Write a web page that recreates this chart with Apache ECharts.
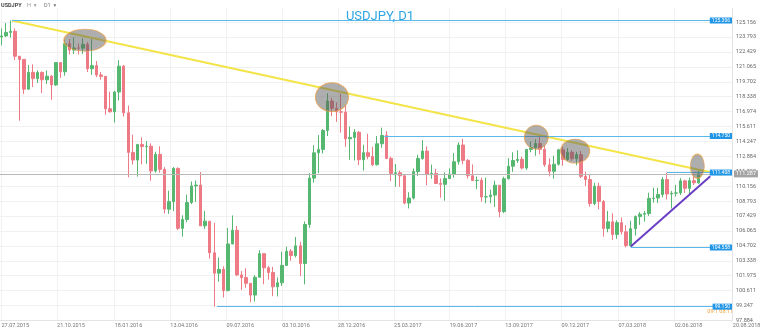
<!DOCTYPE html>
<html><head><meta charset="utf-8">
<script src="https://cdn.jsdelivr.net/npm/echarts@6/dist/echarts.min.js"></script>
<style>html,body{margin:0;padding:0;background:#fff}#c{width:760px;height:331px}</style>
</head><body><div id="c"></div>
<script>
// ---- DATA (weekly candles): [weekStart, open, close, low, high]
const ohlc2015 = [
['2015-07-27',123.80,123.90,123.05,124.58],['2015-08-03',123.90,124.22,123.80,125.07],
['2015-08-10',124.22,124.32,123.75,125.31],['2015-08-17',124.32,122.04,121.70,124.58],
['2015-08-24',122.04,121.75,116.15,121.80],['2015-08-31',121.75,119.03,118.60,121.75],
['2015-09-07',119.03,120.57,119.00,121.24],['2015-09-14',120.57,120.00,119.22,121.30],
['2015-09-21',120.00,120.56,119.60,120.75],['2015-09-28',120.56,119.89,118.68,120.65],
['2015-10-05',119.89,120.22,119.50,120.74],['2015-10-12',120.22,119.42,118.06,120.31],
['2015-10-19',119.42,121.46,119.33,121.49],['2015-10-26',121.46,120.62,120.06,121.48],
['2015-11-02',120.62,123.19,120.26,123.59],['2015-11-09',123.19,122.60,122.20,123.60],
['2015-11-16',122.60,122.80,122.25,123.76],['2015-11-23',122.80,122.78,122.20,123.20],
['2015-11-30',122.78,123.13,122.25,123.68],['2015-12-07',123.13,120.90,120.60,123.34],
['2015-12-14',120.90,121.18,120.34,123.60],['2015-12-21',121.18,120.33,120.13,121.60],
['2015-12-28',120.33,120.20,119.90,120.60]
];
const ohlc2016 = [
['2016-01-04',120.20,117.24,116.70,120.20],['2016-01-11',117.24,116.96,116.90,118.80],
['2016-01-18',116.96,118.77,115.98,118.88],['2016-01-25',118.77,121.13,118.00,121.68],
['2016-02-01',121.13,116.87,116.52,121.25],['2016-02-08',116.87,113.25,110.98,117.53],
['2016-02-15',113.25,112.55,112.14,114.87],['2016-02-22',112.55,113.98,111.04,113.98],
['2016-02-29',113.98,113.78,112.16,114.63],['2016-03-07',113.78,113.82,112.21,114.28],
['2016-03-14',113.82,111.56,110.67,114.08],['2016-03-21',111.56,113.07,111.40,113.31],
['2016-03-28',113.07,111.70,111.40,113.80],['2016-04-04',111.70,108.06,107.67,111.90],
['2016-04-11',108.06,108.75,107.63,109.75],['2016-04-18',108.75,111.79,107.88,111.91],
['2016-04-25',111.79,106.31,106.14,111.88],['2016-05-02',106.31,107.12,105.55,107.50],
['2016-05-09',107.12,108.67,106.86,109.39],['2016-05-16',108.67,110.19,108.52,110.59],
['2016-05-23',110.19,110.26,108.73,110.68],['2016-05-30',110.26,106.54,106.52,111.45],
['2016-06-06',106.54,106.96,106.26,107.90],['2016-06-13',106.96,104.07,103.55,106.97],
['2016-06-20',104.07,102.21,99.15,106.82],['2016-06-27',102.21,102.56,101.44,103.64],
['2016-07-04',102.56,100.62,99.99,102.84],['2016-07-11',100.62,104.88,100.55,106.33],
['2016-07-18',104.88,106.13,104.85,107.49],['2016-07-25',106.13,102.05,101.95,106.52],
['2016-08-01',102.05,101.81,100.68,102.40],['2016-08-08',101.81,101.28,100.87,102.66],
['2016-08-15',101.28,100.21,99.55,101.30],['2016-08-22',100.21,101.84,99.62,102.03],
['2016-08-29',101.84,103.99,101.82,104.32],['2016-09-05',103.99,102.70,101.20,104.01],
['2016-09-12',102.70,102.27,101.62,102.87],['2016-09-19',102.27,100.97,100.11,102.79],
['2016-09-26',100.97,101.33,100.08,101.83],['2016-10-03',101.33,102.92,101.04,104.17],
['2016-10-10',102.92,104.21,102.90,104.63],['2016-10-17',104.21,103.82,103.35,104.41],
['2016-10-24',103.82,104.71,103.65,105.52],['2016-10-31',104.71,103.09,101.95,105.08],
['2016-11-07',103.09,106.66,101.19,106.94],['2016-11-14',106.66,110.90,106.35,111.35],
['2016-11-21',110.90,113.21,110.48,113.90],['2016-11-28',113.21,113.52,111.36,114.83],
['2016-12-05',113.52,115.26,113.15,115.38],['2016-12-12',115.26,117.95,114.75,118.66],
['2016-12-19',117.95,117.28,116.56,118.25],['2016-12-26',117.28,116.96,116.04,117.83]
];
const ohlc2017 = [
['2017-01-02',116.96,116.93,115.06,118.61],['2017-01-09',116.93,114.49,113.75,117.53],
['2017-01-16',114.49,114.61,112.57,115.62],['2017-01-23',114.61,115.09,112.51,115.37],
['2017-01-30',115.09,112.58,112.08,115.20],['2017-02-06',112.58,113.22,111.59,113.95],
['2017-02-13',113.22,112.87,112.62,114.95],['2017-02-20',112.87,112.13,111.99,113.76],
['2017-02-27',112.13,114.04,112.05,114.75],['2017-03-06',114.04,114.80,113.67,115.51],
['2017-03-13',114.80,112.70,112.63,115.19],['2017-03-20',112.70,111.33,110.63,112.86],
['2017-03-27',111.33,111.39,110.11,112.19],['2017-04-03',111.39,111.11,110.12,111.59],
['2017-04-10',111.11,108.62,108.50,111.23],['2017-04-17',108.62,109.08,108.13,109.61],
['2017-04-24',109.08,111.50,108.95,111.78],['2017-05-01',111.50,112.70,111.10,113.04],
['2017-05-08',112.70,113.37,112.58,114.37],['2017-05-15',113.37,111.26,110.24,113.79],
['2017-05-22',111.26,111.33,110.84,112.13],['2017-05-29',111.33,110.41,110.36,111.74],
['2017-06-05',110.41,110.33,109.11,110.87],['2017-06-12',110.33,110.86,108.84,111.42],
['2017-06-19',110.86,111.28,110.82,111.79],['2017-06-26',111.28,112.39,110.94,113.18],
['2017-07-03',112.39,113.92,112.12,114.17],['2017-07-10',113.92,112.52,112.15,114.49],
['2017-07-17',112.52,111.12,110.86,112.64],['2017-07-24',111.12,110.68,110.62,112.15],
['2017-07-31',110.68,110.70,109.89,111.05],['2017-08-07',110.70,109.18,108.74,110.95],
['2017-08-14',109.18,109.20,108.60,110.95],['2017-08-21',109.20,109.35,108.60,109.84],
['2017-08-28',109.35,110.25,108.27,110.67],['2017-09-04',110.25,107.84,107.32,110.25],
['2017-09-11',107.84,110.84,107.70,111.02],['2017-09-18',110.84,111.99,110.79,112.72],
['2017-09-25',111.99,112.51,111.47,113.26],['2017-10-02',112.51,112.62,112.28,113.44],
['2017-10-09',112.62,111.82,111.69,112.86],['2017-10-16',111.82,113.52,111.66,113.57],
['2017-10-23',113.52,113.67,113.26,114.25],['2017-10-30',113.67,114.06,112.94,114.45],
['2017-11-06',114.06,113.53,113.08,114.75],['2017-11-13',113.53,112.12,111.93,113.90],
['2017-11-20',112.12,111.52,111.06,112.70],['2017-11-27',111.52,112.17,110.84,112.95],
['2017-12-04',112.17,113.49,112.04,113.58],['2017-12-11',113.49,112.61,112.03,113.75],
['2017-12-18',112.61,113.26,112.48,113.64],['2017-12-25',113.26,112.67,112.47,113.45]
];
const ohlc2018 = [
['2018-01-01',112.67,113.05,112.06,113.30],['2018-01-08',113.05,111.06,110.91,113.39],
['2018-01-15',111.06,110.77,110.18,111.48],['2018-01-22',110.77,108.58,108.28,111.20],
['2018-01-29',108.58,110.16,108.43,110.48],['2018-02-05',110.16,108.76,108.05,110.48],
['2018-02-12',108.76,106.30,105.55,108.90],['2018-02-19',106.30,106.90,105.95,107.90],
['2018-02-26',106.90,105.75,105.25,107.68],['2018-03-05',105.75,106.83,105.35,107.05],
['2018-03-12',106.83,105.99,105.75,107.30],['2018-03-19',105.99,104.74,104.56,106.60],
['2018-03-26',104.74,106.28,104.64,107.00],['2018-04-02',106.28,107.38,105.65,107.49],
['2018-04-09',107.38,107.60,106.62,107.79],['2018-04-16',107.60,107.66,106.92,107.90],
['2018-04-23',107.66,109.04,107.45,109.57],['2018-04-30',109.04,109.08,108.65,110.03],
['2018-05-07',109.08,109.40,108.62,110.02],['2018-05-14',109.40,110.77,109.14,111.00],
['2018-05-21',110.77,109.45,108.95,111.41],['2018-05-28',109.45,109.52,108.12,109.73],
['2018-06-04',109.52,109.55,109.22,110.27],['2018-06-11',109.55,110.65,109.36,110.90],
['2018-06-18',110.65,109.97,109.55,110.75],['2018-06-25',109.97,110.67,109.37,110.96],
['2018-07-02',110.67,110.47,110.27,111.15],['2018-07-09',110.47,111.29,110.38,111.60]
];
// horizontal levels
const levelStarts = ['2015-08-12','2017-03-10','2018-05-21','2018-03-26','2016-06-24'];
const levelValues = [125.306, 114.750, 111.408, 104.558, 99.150];
const currentPrice = 111.287;
// trend lines
const downTrend = [['2015-08-12',125.30],['2018-08-14',111.20]];
const upTrend = [['2018-03-26',104.65],['2018-07-27',111.08]];
// highlighted zones (ellipses)
const zoneDates = ['2015-12-03','2016-12-19','2017-10-31','2017-12-30','2018-07-07'];
const zonePrices = [123.51, 118.30, 114.64, 113.37, 111.99];
const questionPoint = ['2018-07-08', 112.82];
// axis tick labels
const priceTicks = [97.884,99.247,100.611,101.975,103.338,104.702,106.065,107.429,108.793,110.156,111.520,112.884,114.247,115.611,116.974,118.338,119.702,121.065,122.429,123.793,125.156];
const dateTicks = ['2015-07-27','2015-10-21','2016-01-18','2016-04-13','2016-07-09','2016-10-03','2016-12-28','2017-03-25','2017-06-19','2017-09-13','2017-12-09','2018-03-07','2018-06-02'];
const edgeDate = '2018-08-20';
const timerText = '09:1 08:11';

// ---- BUILD
function ts(s){const p=s.split('-');return Date.UTC(+p[0],+p[1]-1,+p[2]);}
function fmt(v){const d=new Date(v);const z=n=>(n<10?'0':'')+n;return z(d.getUTCDate())+'.'+z(d.getUTCMonth()+1)+'.'+d.getUTCFullYear();}
const DAY=86400000;
const xMin = ts('2015-07-27') - 2.32*DAY;
const xMax = xMin + 1131.9*DAY;
const candles = [].concat(ohlc2015,ohlc2016,ohlc2017,ohlc2018).map(r=>[ts(r[0]),r[1],r[2],r[3],r[4]]);
const ellipseSizes = [[42,22],[33,29],[24,24],[29,24],[14,24]];
const UP='#56b870', DOWN='#ee7a85', BLUE='#5ab8ea';
const font='Roboto, "DejaVu Sans", sans-serif';

const levelLines = levelValues.map((v,i)=>[
  {coord:[ts(levelStarts[i]), v], label:{formatter: v.toFixed(3)}},
  {coord:[xMax, v]}
]);
const currentLine = [[
  {coord:[xMin, currentPrice], label:{formatter: currentPrice.toFixed(3)}},
  {coord:[xMax, currentPrice]}
]];

const chart = echarts.init(document.getElementById('c'), null, {renderer:'canvas'});
chart.setOption({
  animation:false,
  backgroundColor:'#fff',
  title:{text:'USDJPY, D1', left:'center', top:5, textStyle:{color:'#2ea6e4', fontSize:13, fontWeight:'normal', fontFamily:font}},
  grid:{left:0, right:28, top:8, bottom:10.5, containLabel:false, outerBoundsMode:'none'},
  xAxis:{type:'value', min:xMin, max:xMax,
    axisLine:{show:true, lineStyle:{color:'#e4e4e4'}},
    axisTick:{show:false, customValues: dateTicks.map(ts)},
    splitLine:{show:true, lineStyle:{color:'#f1f1f1'}},
    axisLabel:{customValues: dateTicks.concat([edgeDate]).map(ts), align:'left', margin:2,
      fontSize:5.5, color:'#777', fontFamily:font,
      formatter:v=> fmt(v)===fmt(ts(edgeDate)) ? '{e|'+fmt(v)+'}' : fmt(v),
      rich:{e:{padding:[0,0,0,7], fontSize:5.5, color:'#777', fontFamily:font}}}
  },
  yAxis:{type:'value', position:'right', min:97.884, max:126.45,
    axisLine:{show:true, lineStyle:{color:'#e4e4e4'}},
    axisTick:{show:false, customValues: priceTicks},
    splitLine:{show:true, lineStyle:{color:'#f1f1f1'}},
    axisLabel:{customValues: priceTicks, formatter:v=>v.toFixed(3), fontSize:5.5, color:'#666', margin:4, fontFamily:font}
  },
  series:[
    {type:'line', data:[], clip:false, silent:true,
     markLine:{silent:true, symbol:['none','none'], animation:false, z:3,
       lineStyle:{color:'#b8b8b8', width:1, type:'solid'},
       label:{show:true, position:'end', distance:2, color:'#fff', backgroundColor:'#a3a3a3',
              padding:[1,2,0,2], fontSize:5.5, fontFamily:font},
       data:currentLine}
    },
    {type:'candlestick', data:candles, encode:{x:0, y:[1,2,3,4]}, barWidth:3, clip:false,
     itemStyle:{color:UP, color0:DOWN, borderColor:UP, borderColor0:DOWN, borderWidth:1},
     markLine:{silent:true, symbol:['none','none'], animation:false,
       lineStyle:{color:BLUE, width:1, type:'solid'},
       label:{show:true, position:'end', distance:0, align:'right', color:'#fff', backgroundColor:'#2196e6',
              padding:[1,2,0,2], fontSize:5, fontFamily:font},
       data:levelLines}
    },
    {type:'line', data:downTrend.map(p=>[ts(p[0]),p[1]]), showSymbol:false, z:4,
     lineStyle:{color:'#f3e447', width:2}},
    {type:'line', data:upTrend.map(p=>[ts(p[0]),p[1]]), showSymbol:false, z:4,
     lineStyle:{color:'#6b3fc4', width:2}},
    {type:'scatter', z:5, data:zoneDates.map((d,i)=>[ts(d), zonePrices[i]]),
     symbol:'circle', symbolSize:(v,p)=>ellipseSizes[p.dataIndex],
     itemStyle:{color:'rgba(92,92,92,0.62)', borderColor:'#e9a04c', borderWidth:1}},
    {type:'scatter', z:6, data:[[ts(questionPoint[0]), questionPoint[1]]], symbolSize:1,
     itemStyle:{opacity:0},
     label:{show:true, position:'inside', formatter:'?', fontSize:12, color:'#3aa7e6', fontFamily:font}}
  ],
  graphic:[
    {type:'text', left:1, top:3, style:{text:'USDJPY', font:'bold 5.5px '+font, fill:'#444'}},
    {type:'text', left:27, top:3, style:{text:'H  ▾', font:'5.5px '+font, fill:'#999'}},
    {type:'text', left:44, top:3, style:{text:'D1  ▾', font:'5.5px '+font, fill:'#777'}},
    {type:'text', right:27, top:309, style:{text:timerText, font:'5.5px '+font, fill:'#f0a134'}}
  ]
});
</script></body></html>
